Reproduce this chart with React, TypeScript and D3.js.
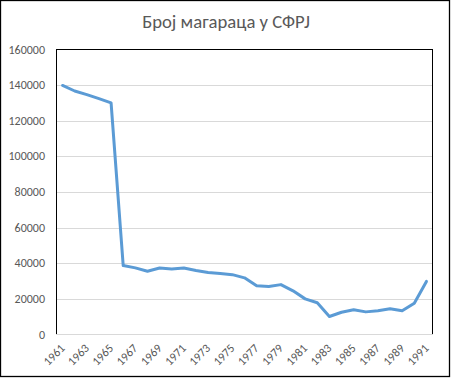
import React from "react";
import * as d3 from "d3";

const years: string[] = [
  "1961","1962","1963","1964","1965","1966","1967","1968","1969","1970",
  "1971","1972","1973","1974","1975","1976","1977","1978","1979","1980",
  "1981","1982","1983","1984","1985","1986","1987","1988","1989","1990","1991",
];
const donkeys: number[] = [
  139800, 136700, 134700, 132400, 130000, 38700, 37400, 35500, 37300, 36800,
  37300, 35900, 34800, 34200, 33600, 31800, 27300, 26900, 28000, 24500,
  20000, 17800, 10100, 12500, 13900, 12700, 13300, 14400, 13300, 17600, 29800,
];
const yTicks: number[] = [0, 20000, 40000, 60000, 80000, 100000, 120000, 140000, 160000];
const xLabels: string[] = years.filter((_, i) => i % 2 === 0);
const title = "Број магараца у СФРЈ";

const W = 454, H = 383;
const left = 56.5, right = 432.5, top = 49.5, bottom = 334.5;

export default function App() {
  const x = d3.scaleBand<string>().domain(years).range([left, right]);
  const y = d3.scaleLinear().domain([0, 160000]).range([bottom, top]);
  const cx = (d: string) => (x(d) as number) + x.bandwidth() / 2;
  const line = d3.line<number>().x((_, i) => cx(years[i])).y((d) => y(d));
  const font = "Carlito, Calibri, 'Open Sans', Lato, sans-serif";
  return (
    <svg width={W} height={H} style={{ position: "absolute", left: 0, top: 0, background: "#fff" }} fontFamily={font}>
      <rect x={0.5} y={0.5} width={449} height={376} fill="#fff" stroke="#000" strokeWidth={1.3} />
      <text x={226} y={28} textAnchor="middle" fontSize={18.7} fill="#595959">{title}</text>
      <rect x={left} y={top} width={right - left} height={bottom - top} fill="none" stroke="#000" strokeWidth={1} />
      {yTicks.map((t) => (
        <g key={t}>
          {t > 0 && t < 160000 && (
            <line x1={left + 0.5} x2={right - 0.5} y1={Math.round(y(t)) + 0.5} y2={Math.round(y(t)) + 0.5} stroke="#D9D9D9" />
          )}
          <text x={45} y={y(t) + 4} textAnchor="end" fontSize={12} fill="#595959">{t}</text>
        </g>
      ))}
      <line x1={left - 0.5} x2={right + 0.5} y1={bottom} y2={bottom} stroke="#D9D9D9" />
      <path d={line(donkeys) as string} fill="none" stroke="#5B9BD5" strokeWidth={3} strokeLinejoin="round" strokeLinecap="round" />
      {xLabels.map((l) => (
        <text key={l} transform={`translate(${cx(l) + 3},${349}) rotate(-45)`} textAnchor="end" fontSize={12} fill="#595959">{l}</text>
      ))}
    </svg>
  );
}
